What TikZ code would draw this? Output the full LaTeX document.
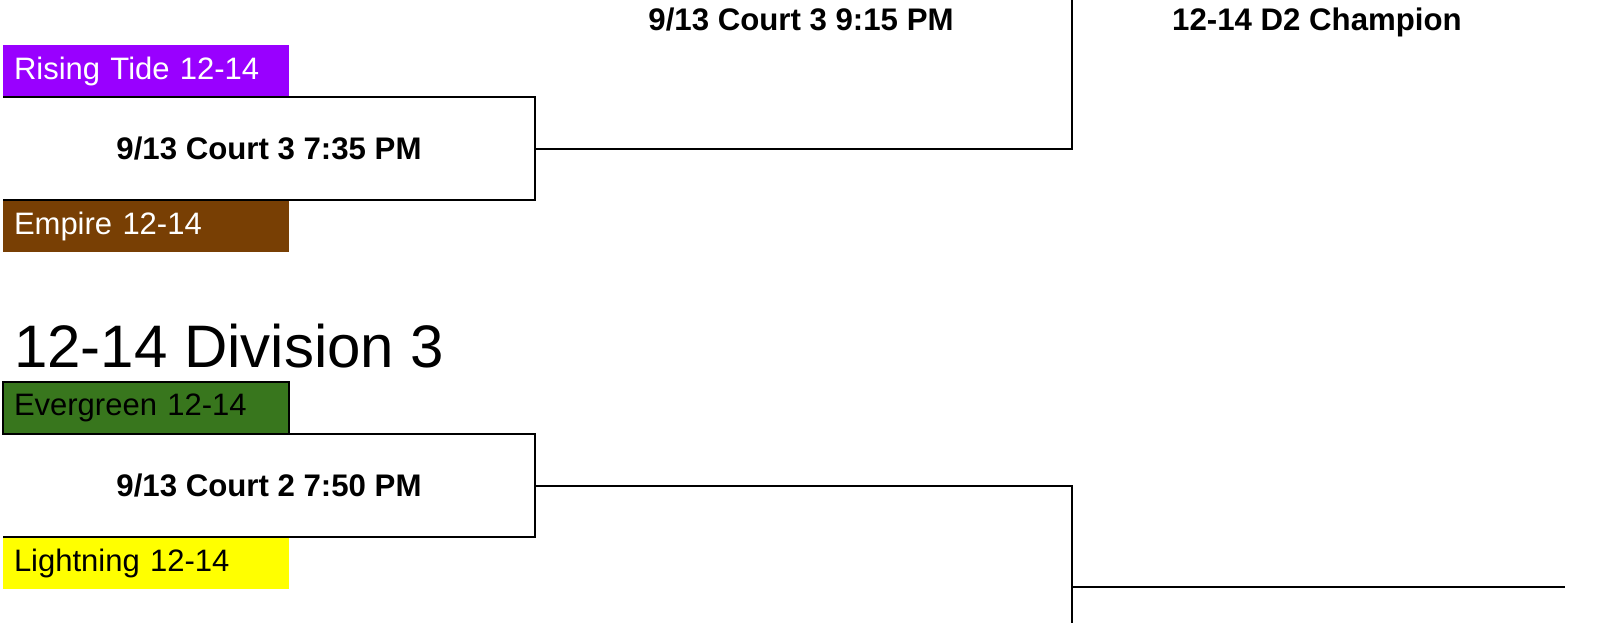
\documentclass[tikz,border=0pt]{standalone}
\usepackage{fontspec}
\setmainfont{Liberation Sans}
\usetikzlibrary{positioning}
\definecolor{pu}{RGB}{153, 0, 255}
\definecolor{br}{RGB}{120, 63, 4}
\definecolor{gn}{RGB}{56, 118, 29}
\definecolor{ye}{RGB}{255, 255, 0}

\begin{document}
\begin{tikzpicture}[x=0.5pt, y=0.5pt, line width=1pt,
    team/.style={rectangle, anchor=north west, outer sep=0pt, minimum height=26pt, text width=132pt, inner xsep=5.5pt, inner ysep=0pt, align=left, font=\fontsize{15.5}{18}\selectfont},
    game/.style={rectangle, anchor=north west, outer sep=0pt, minimum width=266pt, minimum height=51.5pt, inner sep=0pt, font=\bfseries\fontsize{15.6}{18}\selectfont},
    head/.style={inner sep=0pt, font=\bfseries\fontsize{15.6}{18}\selectfont}]
        \useasboundingbox (0,0) rectangle (1600,623);
        % division 2, semifinal
        \node[team, fill=pu, text=white] (rt) at (3,578) {\raisebox{-1pt}{Rising Tide 12-14}};
        \node[game] (g1) at (rt.south west) {9/13 Court 3 7:35 PM};
        \node[team, fill=br, text=white] (em) at (g1.south west) {\raisebox{-1pt}{Empire 12-14}};
        \draw (g1.north west) -- (g1.north east) -- (g1.south east) -- (g1.south west);
        \node[head] (m1) at (801,603) {9/13 Court 3 9:15 PM};
        \node[head] (ch) at (1317,601) {12-14 D2 Champion};
        \coordinate (t1) at (1072,623);
        \draw (g1.east) -| (t1);
        % division 3
        \node[anchor=base west, inner sep=0pt, font=\fontsize{30}{36}\selectfont] (dv) at (13,256) {12-14 Division 3};
        \node[team, draw, fill=gn] (eg) at (3,241) {\raisebox{-1pt}{Evergreen 12-14}};
        \node[game] (g2) at (eg.south west) {9/13 Court 2 7:50 PM};
        \node[team, fill=ye] (lt) at (g2.south west) {\raisebox{-1pt}{Lightning 12-14}};
        \draw (g2.north west) -- (g2.north east) -- (g2.south east) -- (g2.south west);
        \coordinate (b2) at (1072,0);
        \coordinate (j2) at (1072,36);
        \coordinate (c2) at (1565,36);
        \draw (g2.east) -| (b2);
        \draw (j2) -- (c2);
        % \draw (g1.east) -- (g2.east);
    \end{tikzpicture}
\end{document}
